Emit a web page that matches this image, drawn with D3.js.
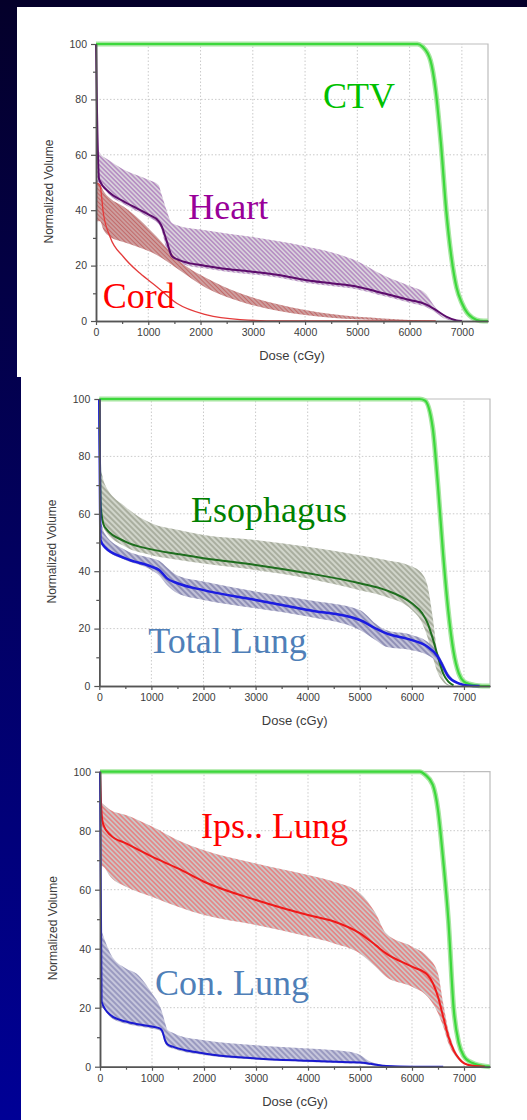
<!DOCTYPE html>
<html>
<head>
<meta charset="utf-8">
<style>
  body { margin: 0; background: #000060; }
  svg { display: block; }
  .tick text { font-family: Arial, 'Liberation Sans', sans-serif; font-size: 10.5px; fill: #3c3c3c; }
  .axis-title { font-family: Arial, 'Liberation Sans', sans-serif; fill: #3c3c3c; }
  .organ { font-family: 'Times New Roman', 'Liberation Serif', serif; font-size: 36px; }
</style>
</head>
<body>
<svg width="527" height="1120"></svg>

<script src="https://cdn.jsdelivr.net/npm/d3@7"></script>
<script>
// ---- data (dose in cGy, volume in %) ----
const doseTicks = [0, 1000, 2000, 3000, 4000, 5000, 6000, 7000];
const volTicks = [0, 20, 40, 60, 80, 100];

// CTV, one curve per plot
const ctvDose = [0, 6150, 6250, 6400, 6500, 6600, 6700, 6800, 6900, 7000, 7100, 7200, 7350, 7500];
const ctvVolA = [100, 100, 99, 94, 83, 64, 40, 23, 12, 6.5, 3, 1.2, 0.1, 0];
const ctvVolB = [100, 100, 99.5, 90, 70, 46, 26, 12, 4.5, 1.5, 0.7, 0.3, 0, 0];
const ctvVolC = [100, 100, 99, 95.5, 87, 70, 49.5, 20, 8, 3.5, 1.8, 1, 0.3, 0];

const heartDose = [0, 20, 60, 250, 500, 800, 1000, 1200, 1250, 1350, 1450, 1550, 1800, 2000, 2500, 3000, 3500, 4000, 4500, 5000, 5500, 6000, 6300, 6500, 6700, 6900, 7000];
const heartMean = [100, 75, 51, 46.5, 43.5, 40.5, 38.5, 36, 34.5, 29, 23.5, 22.3, 20.8, 20.2, 18.8, 17.8, 16.6, 14.8, 13.6, 12.4, 10, 7.6, 6.1, 4, 1.6, 0.2, 0];
const heartHi = [63, 62.5, 61, 58, 55, 52.5, 51, 49, 46, 40, 35.5, 34.6, 33.5, 33, 31.6, 30.3, 28.8, 27, 24.8, 21.6, 16.5, 12.6, 10, 4.8, 1.2, 0.2, 0];
const heartLo = [50, 50, 50, 45.5, 42.5, 39.5, 37.5, 35, 33, 26, 22.5, 21.3, 19.8, 19.2, 17.8, 16.8, 15.6, 13.8, 12.6, 11.4, 9, 6.6, 5.1, 3, 0.6, 0, 0];

const cordDose = [0, 77, 140, 268, 523, 842, 1162, 1545, 2119, 2757, 3500, 4500, 5500, 6500];
const cordMean = [50, 49, 39, 30.4, 23.2, 17.2, 12.4, 6.4, 2.2, 0.5, 0, 0, 0, 0];
const cordHi = [50, 49.5, 47, 44.3, 41.3, 36.5, 30.4, 22.5, 15.4, 10, 6, 2.5, 0.9, 0];
const cordLo = [36, 36, 33, 30.4, 28.5, 26.4, 23.8, 19, 11.8, 7, 3.6, 1.2, 0.3, 0];

const esoDose = [0, 30, 100, 500, 1000, 1500, 2000, 3000, 4000, 5000, 5500, 6000, 6200, 6300, 6400, 6500, 6600, 6700, 6800];
const esoMean = [100, 62, 55.5, 50.3, 47.6, 46, 44.5, 42.2, 39.3, 35.8, 33.4, 28.8, 25.3, 22, 16.6, 10.2, 4.4, 1.5, 0.2];
const esoHi = [76, 75, 70.6, 62.5, 56.7, 54.4, 52.6, 50.9, 48.5, 45.6, 43.9, 41.6, 39, 35, 24, 10, 3, 0.6, 0];
const esoLo = [58, 58, 54.4, 48.5, 45.6, 44, 42.7, 40.4, 37.5, 33.4, 31.1, 26.5, 21.8, 17, 10.2, 4.4, 1.5, 0.2, 0];

const lungDose = [0, 20, 100, 500, 1000, 1150, 1300, 1500, 2000, 3000, 4000, 5000, 5300, 5500, 6000, 6300, 6500, 6600, 6700, 6900, 7100, 7300];
const lungMean = [100, 51, 48.5, 44.5, 41.6, 40.4, 37.5, 35.8, 33.4, 30, 26.5, 23, 20.1, 18.4, 16, 13.7, 10.2, 6.7, 3.3, 0.9, 0.1, 0];
const lungHi = [57, 57, 53.2, 47.4, 44.5, 43.6, 41.3, 38.5, 36.4, 32.9, 30, 26.5, 21.8, 19.5, 17.8, 15.4, 11.4, 8, 4.4, 0.9, 0.1, 0];
const lungLo = [50, 50, 48, 43.9, 40.4, 38.5, 35.2, 32.3, 30, 27.1, 24.2, 19.5, 16, 13.7, 12.5, 10.8, 7.9, 5, 2.7, 0.5, 0, 0];

const ipsDose = [0, 30, 64, 200, 500, 1000, 1500, 2000, 3000, 4000, 4500, 5000, 5300, 5500, 6000, 6300, 6500, 6600, 6700, 6800, 6900, 7000, 7200, 7400];
const ipsMean = [100, 86, 82, 78.5, 75.7, 71.2, 67.2, 62.7, 56.5, 51.4, 49.2, 45.2, 41.2, 38.4, 33.9, 31.1, 23.7, 16.9, 10.2, 5.6, 2.8, 1.1, 0.2, 0];
const ipsHi = [90, 89.5, 89, 87, 85.3, 81.4, 76.8, 73.4, 68.9, 65, 62.7, 58.8, 52, 45.2, 40.7, 37.3, 31.6, 21.5, 12.4, 6.8, 3.5, 1.7, 0.2, 0];
const ipsLo = [68, 68, 67.8, 64.4, 61, 57.6, 54.2, 51.4, 48, 44.1, 41.8, 38.4, 33.9, 30.5, 27.1, 23.7, 18.1, 13.6, 7.9, 4.5, 2.2, 0.9, 0, 0];

const conDose = [0, 30, 200, 500, 700, 1000, 1150, 1200, 1250, 1300, 1400, 1500, 2000, 3000, 4000, 4800, 5000, 5200, 5500, 6000, 6600];
const conMean = [100, 22, 17.5, 15.3, 14.5, 13.6, 13, 12, 9, 7.5, 6.8, 6.2, 4.5, 2.8, 2, 1.5, 1.4, 1, 0.2, 0, 0];
const conHi = [47.5, 46, 38.4, 33.3, 31.6, 24.9, 20.5, 18.1, 15, 12.4, 11.5, 10.7, 9, 7.3, 6.2, 5.1, 4, 1.7, 0.6, 0, 0];
const conLo = [20, 20, 16.8, 14.6, 13.8, 12.9, 12.3, 11, 8, 6.8, 6.2, 5.6, 4, 2.4, 1.6, 1.1, 1, 0.6, 0, 0, 0];

// ---- which curves go in which plot ----
const plots = [
  {
    box: { left: 96, right: 488, top: 44, bottom: 321 },
    bands: [
      { dose: heartDose, lo: heartLo, hi: heartHi, pat: "hHeart" },
      { dose: cordDose, lo: cordLo, hi: cordHi, pat: "hCord" }
    ],
    ctv: ctvVolA,
    lines: [
      { dose: cordDose, vol: cordMean, color: "#e43a3a", w: 1.3 },
      { dose: heartDose, vol: heartMean, color: "#5c0c6c", w: 2 }
    ],
    labels: [
      { text: "CTV", dose: 4345, vol: 77, color: "#00c000" },
      { text: "Heart", dose: 1767, vol: 37, color: "#990099" },
      { text: "Cord", dose: 128, vol: 4.6, color: "#ff0000" }
    ]
  },
  {
    box: { left: 99.3, right: 490, top: 399, bottom: 686 },
    bands: [
      { dose: esoDose, lo: esoLo, hi: esoHi, pat: "hEso" },
      { dose: lungDose, lo: lungLo, hi: lungHi, pat: "hLung" }
    ],
    ctv: ctvVolB,
    lines: [
      { dose: esoDose, vol: esoMean, color: "#1e6e1e", w: 2 },
      { dose: lungDose, vol: lungMean, color: "#1c1ce0", w: 2.5 }
    ],
    labels: [
      { text: "Esophagus", dose: 1760, vol: 57, color: "#008000" },
      { text: "Total Lung", dose: 941, vol: 11.4, color: "#4f7fb8" }
    ]
  },
  {
    box: { left: 100, right: 490, top: 771.7, bottom: 1066.7 },
    bands: [
      { dose: ipsDose, lo: ipsLo, hi: ipsHi, pat: "hIps" },
      { dose: conDose, lo: conLo, hi: conHi, pat: "hCon" }
    ],
    ctv: ctvVolC,
    lines: [
      { dose: ipsDose, vol: ipsMean, color: "#ee1a1a", w: 2 },
      { dose: conDose, vol: conMean, color: "#1a1ad0", w: 2 }
    ],
    labels: [
      { text: "Ips.. Lung", dose: 1942, vol: 77.4, color: "#ff0000" },
      { text: "Con. Lung", dose: 1058, vol: 24.3, color: "#4f7fb8" }
    ]
  }
];

const svg = d3.select("svg");
const defs = svg.append("defs");

// slide background
let grad = defs.append("linearGradient").attr("id", "bg")
  .attr("x1", 0).attr("y1", 0).attr("x2", 0).attr("y2", 1);
grad.append("stop").attr("offset", "0%").attr("stop-color", "#04002a");
grad.append("stop").attr("offset", "100%").attr("stop-color", "#000096");
svg.append("rect").attr("width", 527).attr("height", 1120).attr("fill", "url(#bg)");

// hatch fills for the min/max bands
function hatch(id, bg, fg, size, sw) {
  let p = defs.append("pattern").attr("id", id)
    .attr("patternUnits", "userSpaceOnUse")
    .attr("width", size).attr("height", size)
    .attr("patternTransform", "rotate(-45)");
  p.append("rect").attr("width", size).attr("height", size).attr("fill", bg);
  p.append("line").attr("x1", size / 2).attr("x2", size / 2)
    .attr("y1", 0).attr("y2", size)
    .attr("stroke", fg).attr("stroke-width", sw);
}
hatch("hHeart", "#d9d2dc", "#b58cc2", 3.2, 1.5);
hatch("hCord", "#d2b4b4", "#c26a6a", 3, 1.6);
hatch("hEso", "#a9ae9f", "#dcdfd6", 4, 1.6);
hatch("hLung", "#9090b6", "#cdcde0", 4, 1.6);
hatch("hIps", "#cbc6c6", "#e38787", 3.4, 1.7);
hatch("hCon", "#9a9ac0", "#d2d2e4", 4, 1.6);

// white sheets behind the plots
svg.append("rect").attr("x", 17).attr("y", 7).attr("width", 510).attr("height", 370).attr("fill", "#fff");
svg.append("rect").attr("x", 21).attr("y", 377).attr("width", 506).attr("height", 743).attr("fill", "#fff");

plots.forEach(function (p) {
  let b = p.box;
  let x = d3.scaleLinear().domain([0, 7500]).range([b.left, b.right]);
  let y = d3.scaleLinear().domain([0, 100]).range([b.bottom, b.top]);
  let g = svg.append("g");

  // dotted grid
  g.selectAll(".vgrid")
    .data(doseTicks.slice(1))
    .join("line")
    .attr("x1", d => x(d)).attr("x2", d => x(d))
    .attr("y1", y(0)).attr("y2", y(100))
    .style("stroke", "#c4c4c4").style("stroke-dasharray", "1.5,2").style("stroke-width", 0.9);
  g.selectAll(".hgrid")
    .data(volTicks.slice(1, -1))
    .join("line")
    .attr("x1", x(0)).attr("x2", x(7500))
    .attr("y1", d => y(d)).attr("y2", d => y(d))
    .style("stroke", "#c4c4c4").style("stroke-dasharray", "1.5,2").style("stroke-width", 0.9);

  // light frame on top and right
  g.append("path")
    .attr("d", `M${x(0)},${y(100)}H${x(7500)}V${y(0)}`)
    .style("fill", "none").style("stroke", "#bdbdbd").style("stroke-width", 1.2);

  // bands
  let area = d3.area()
    .x(d => x(d[0])).y0(d => y(d[1])).y1(d => y(d[2]))
    .curve(d3.curveMonotoneX);
  p.bands.forEach(function (s) {
    g.append("path")
      .attr("d", area(d3.zip(s.dose, s.lo, s.hi)))
      .style("fill", "url(#" + s.pat + ")")
      .style("stroke", "none");
  });

  let line = d3.line()
    .x(d => x(d[0])).y(d => y(d[1]))
    .curve(d3.curveMonotoneX);

  // CTV: narrow band + line
  let ctvRows = d3.zip(ctvDose, p.ctv);
  g.append("path").attr("d", line(ctvRows))
    .style("fill", "none").style("stroke", "#a6e6a0").style("stroke-width", 5);
  g.append("path").attr("d", line(ctvRows))
    .style("fill", "none").style("stroke", "#3cd83c").style("stroke-width", 2.2);

  p.lines.forEach(function (s) {
    g.append("path")
      .attr("d", line(d3.zip(s.dose, s.vol)))
      .style("fill", "none")
      .style("stroke", s.color)
      .style("stroke-width", s.w);
  });

  // axes
  let yAxis = d3.axisLeft(y).tickValues(volTicks).tickSize(5).tickSizeOuter(0).tickPadding(4).tickFormat(d3.format("d"));
  let yMinor = d3.axisLeft(y).tickValues([10, 30, 50, 70, 90]).tickSize(3).tickSizeOuter(0).tickFormat("");
  let xAxis = d3.axisBottom(x).tickValues(doseTicks).tickSize(4).tickSizeOuter(0).tickPadding(4).tickFormat(d3.format("d"));
  let xMinor = d3.axisBottom(x).tickValues([500, 1500, 2500, 3500, 4500, 5500, 6500]).tickSize(3).tickSizeOuter(0).tickFormat("");

  [yMinor, yAxis].forEach(a => {
    g.append("g").attr("transform", `translate(${x(0)},0)`).call(a);
  });
  [xMinor, xAxis].forEach(a => {
    g.append("g").attr("transform", `translate(0,${y(0)})`).call(a);
  });
  g.selectAll(".domain").style("stroke", "#555").style("stroke-width", 1.5);
  g.selectAll(".tick line").style("stroke", "#555").style("stroke-width", 1.2);

  g.append("text")
    .attr("class", "axis-title")
    .attr("transform", `translate(${b.left - 43},${(b.top + b.bottom) / 2 + 9}) rotate(-90)`)
    .attr("text-anchor", "middle")
    .style("font-size", "12px")
    .text("Normalized Volume");
  g.append("text")
    .attr("class", "axis-title")
    .attr("x", (b.left + b.right) / 2)
    .attr("y", b.bottom + 39)
    .attr("text-anchor", "middle")
    .style("font-size", "13px")
    .text("Dose (cGy)");

  // organ names
  g.selectAll(".organ")
    .data(p.labels)
    .join("text")
    .attr("class", "organ")
    .attr("x", d => x(d.dose))
    .attr("y", d => y(d.vol))
    .style("fill", d => d.color)
    .text(d => d.text);
});
</script>
</body>
</html>
